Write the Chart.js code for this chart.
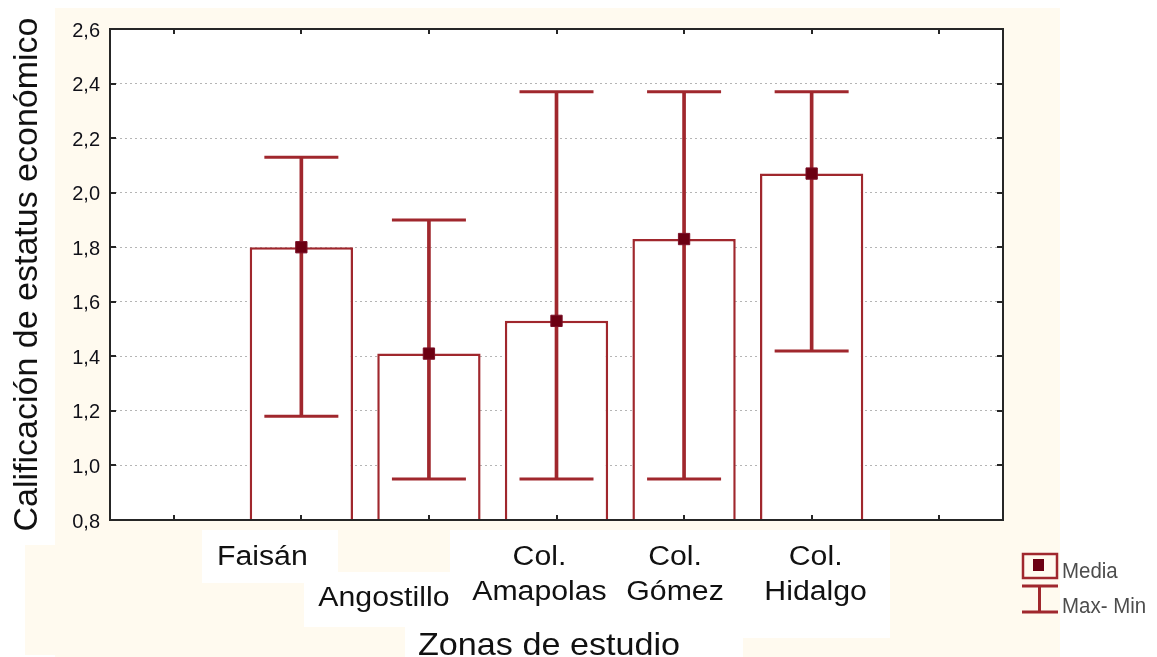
<!DOCTYPE html>
<html><head><meta charset="utf-8">
<script src="https://cdn.jsdelivr.net/npm/chart.js@4.4.1/dist/chart.umd.min.js"></script>
<style>html,body{margin:0;padding:0;background:#fff;overflow:hidden}canvas{display:block}</style>
</head><body>
<canvas id="c" width="1157" height="657"></canvas>
<script>
// ---- data ----
const categories = ["", "Faisán", "Angostillo", "Col. Amapolas", "Col. Gómez", "Col. Hidalgo", ""];
const labelLines = [[], ["Faisán"], ["Angostillo"], ["Col.", "Amapolas"], ["Col.", "Gómez"], ["Col.", "Hidalgo"], []];
const media  = [null, 1.80, 1.41, 1.53, 1.83, 2.07, null];
const maximo = [null, 2.13, 1.90, 2.37, 2.37, 2.37, null];
const minimo = [null, 1.18, 0.95, 0.95, 0.95, 1.42, null];
const yTickLabels = ["0,8", "1,0", "1,2", "1,4", "1,6", "1,8", "2,0", "2,2", "2,4", "2,6"];
const yTitle = "Calificación de estatus económico";
const xTitle = "Zonas de estudio";
const legendLabels = ["Media", "Max- Min"];

// ---- styles / layout ----
const FONT = "'Liberation Sans', Arial, sans-serif";
const MAROON = '#a0272d';
const MARK = '#6c0012';
const CREAM = '#fffaef';
// per-label horizontal offset from category centre and baselines relative to plot bottom
const labelLayout = [null,
  {dx: -39, dy: [45]},
  {dx: -45, dy: [86]},
  {dx: -17, dy: [45, 80]},
  {dx: -9,  dy: [45, 80]},
  {dx: 4,   dy: [45, 80]},
  null];

const rango = minimo.map((v, i) => (v == null || maximo[i] == null) ? null : [v, maximo[i]]);

const bgPlugin = {
  id: 'bg',
  beforeDraw(chart) {
    const c = chart.ctx, a = chart.chartArea;
    c.save();
    c.fillStyle = '#fff';
    c.fillRect(0, 0, chart.width, chart.height);
    c.fillStyle = CREAM;
    c.fillRect(55, 8, 1005, 649);
    c.fillRect(25, 545, 30, 110);
    c.fillStyle = '#fff';
    c.fillRect(0, 0, 55, 545);
    c.fillRect(202, 530, 136, 53);
    c.fillRect(304, 572, 146, 55);
    c.fillRect(450, 530, 440, 108);
    c.fillRect(405, 627, 338, 30);
    c.fillRect(a.left, a.top, a.right - a.left, a.bottom - a.top);
    c.restore();
  }
};

const overlayPlugin = {
  id: 'overlay',
  afterDraw(chart) {
    const c = chart.ctx, a = chart.chartArea;
    const xs = chart.scales.x, ys = chart.scales.y;
    c.save();
    // frame
    c.strokeStyle = '#262626';
    c.lineWidth = 2;
    c.strokeRect(a.left, a.top, a.right - a.left, a.bottom - a.top);
    // inward ticks
    c.lineWidth = 2;
    c.beginPath();
    ys.ticks.forEach(t => {
      const y = Math.round(ys.getPixelForValue(t.value));
      c.moveTo(a.left, y); c.lineTo(a.left + 6, y);
      c.moveTo(a.right, y); c.lineTo(a.right - 6, y);
    });
    for (let i = 0; i < categories.length; i++) {
      const x = Math.round(xs.getPixelForValue(i));
      c.moveTo(x, a.bottom); c.lineTo(x, a.bottom - 5);
      c.moveTo(x, a.top); c.lineTo(x, a.top + 5);
    }
    c.stroke();
    // x category labels
    c.fillStyle = '#111';
    c.textAlign = 'center';
    c.textBaseline = 'alphabetic';
    c.font = "27px " + FONT;
    labelLines.forEach((lines, i) => {
      const L = labelLayout[i];
      if (!L) return;
      const cx = xs.getPixelForValue(i) + L.dx;
      lines.forEach((t, k) => {
        c.save();
        c.translate(cx, a.bottom + L.dy[k]);
        c.scale(1.12, 1);
        c.fillText(t, 0, 0);
        c.restore();
      });
    });
    // x title
    c.font = "30.5px " + FONT;
    c.save();
    c.translate(549, 655);
    c.scale(1.12, 1);
    c.fillText(xTitle, 0, 0);
    c.restore();
    // legend
    c.strokeStyle = MAROON;
    c.lineWidth = 2.5;
    c.strokeRect(1023, 554, 34, 24);
    c.fillStyle = MARK;
    c.fillRect(1033, 559, 11, 12);
    c.lineWidth = 3;
    c.beginPath();
    c.moveTo(1022, 586); c.lineTo(1058, 586);
    c.moveTo(1039.5, 586); c.lineTo(1039.5, 612);
    c.moveTo(1022, 612); c.lineTo(1058, 612);
    c.stroke();
    c.fillStyle = '#4d4d4d';
    c.textAlign = 'left';
    c.save();
    c.font = "22px " + FONT;
    c.translate(1062, 578); c.scale(0.93, 1); c.fillText(legendLabels[0], 0, 0);
    c.restore();
    c.save();
    c.font = "22px " + FONT;
    c.translate(1062, 613); c.scale(0.93, 1); c.fillText(legendLabels[1], 0, 0);
    c.restore();
    c.restore();
  }
};

new Chart(document.getElementById('c').getContext('2d'), {
  type: 'bar',
  data: {
    labels: categories,
    datasets: [
      {type: 'line', label: 'Media', data: media, showLine: false, pointStyle: 'rect',
       pointRadius: 8, pointBackgroundColor: MARK, pointBorderColor: '#7a1028', pointBorderWidth: 1, order: 0},
      {type: 'line', label: 'Max', data: maximo, showLine: false, pointStyle: 'line',
       pointRadius: 37, pointBorderColor: MAROON, pointBorderWidth: 3, order: 1},
      {type: 'line', label: 'Min', data: minimo, showLine: false, pointStyle: 'line',
       pointRadius: 37, pointBorderColor: MAROON, pointBorderWidth: 3, order: 1},
      {type: 'bar', label: 'Rango', data: rango, backgroundColor: MAROON, barThickness: 3,
       grouped: false, order: 2},
      {type: 'bar', label: 'MediaBar', data: media, backgroundColor: '#ffffff', borderColor: MAROON,
       borderWidth: 2.5, barPercentage: 0.81, categoryPercentage: 1, grouped: false, order: 3,
       borderSkipped: 'bottom'}
    ]
  },
  options: {
    responsive: false, animation: false, devicePixelRatio: 1, events: [],
    layout: {autoPadding: false, padding: {top: 29, right: 154, left: 0, bottom: 0}},
    plugins: {legend: {display: false}, tooltip: {enabled: false}},
    scales: {
      x: {offset: true, grid: {display: false}, border: {display: false}, ticks: {display: false},
          afterFit(s) { s.height = 137; }},
      y: {min: 0.8, max: 2.6,
          ticks: {stepSize: 0.2, callback: (v, i) => yTickLabels[i], font: {family: FONT, size: 20},
                  color: '#101018', padding: 10, labelOffset: 2},
          grid: {color: '#b5b5b5', lineWidth: 1, drawTicks: false},
          border: {display: false, dash: [2, 3]},
          title: {display: true, text: yTitle, font: {family: FONT, size: 34}, color: '#111',
                  padding: {top: 7, bottom: 0}},
          afterFit(s) { s.width = 110; }}
    }
  },
  plugins: [bgPlugin, overlayPlugin]
});
</script>
</body></html>
